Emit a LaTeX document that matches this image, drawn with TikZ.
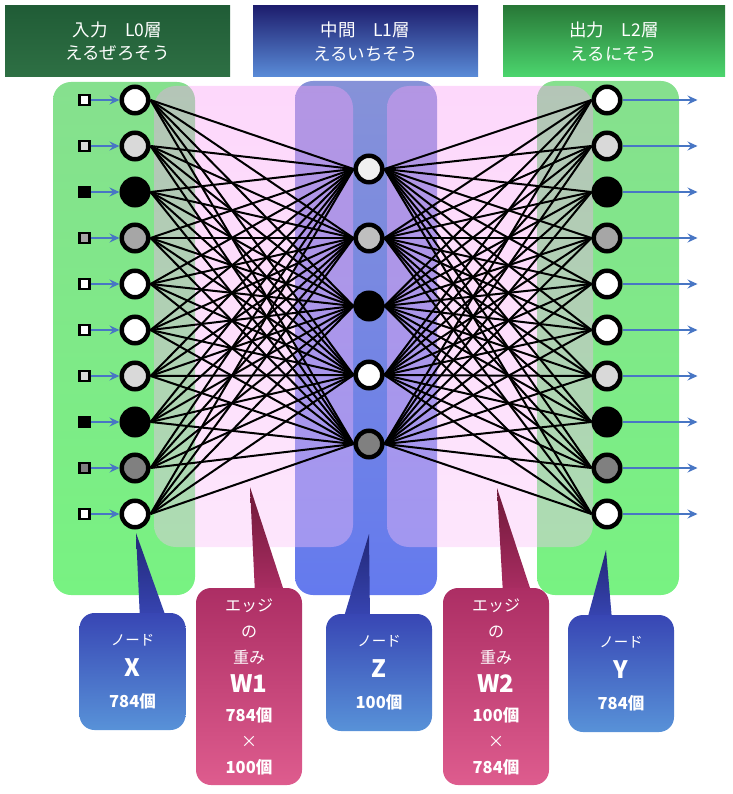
\documentclass[tikz,border=0pt]{standalone}
\usepackage{fontspec}
\setmainfont{Noto Sans CJK JP}
\usepackage{tikz}
\usetikzlibrary{positioning, arrows.meta}

\definecolor{panelA}{RGB}{134,224,142}
\definecolor{panelB}{RGB}{178,239,183}
\definecolor{panelC}{RGB}{120,242,130}
\definecolor{columnA}{RGB}{134,146,216}
\definecolor{columnB}{RGB}{158,178,240}
\definecolor{columnC}{RGB}{100,122,238}
\definecolor{veilA}{RGB}{250,157,245}
\definecolor{veilB}{RGB}{250,192,248}
\definecolor{flowblue}{RGB}{72,118,196}
\definecolor{lgray}{RGB}{217,217,217}
\definecolor{mgray}{RGB}{166,166,166}
\definecolor{dgray}{RGB}{128,128,128}
\definecolor{wgray}{RGB}{240,240,240}
\definecolor{sgray}{RGB}{191,191,191}
\definecolor{tagblueA}{RGB}{56,70,180}
\definecolor{tagblueB}{RGB}{88,146,216}
\definecolor{tippblue}{RGB}{34,40,120}
\definecolor{tagpinkA}{RGB}{172,46,100}
\definecolor{tagpinkB}{RGB}{208,66,128}
\definecolor{tagpinkC}{RGB}{222,92,142}
\definecolor{tippink}{RGB}{110,24,56}

\tikzset{
  unit/.style={circle, draw=black, line width=4.5pt, minimum size=26.5pt, inner sep=0pt},
  insq/.style={rectangle, draw=black, line width=2.2pt, minimum size=10pt, inner sep=0pt},
  wire/.style={black, line width=2pt},
  flow/.style={draw=flowblue, line width=1.3pt, -{Stealth[length=10pt,width=9pt,inset=3.5pt]}},
  head/.style={rectangle, minimum width=225pt, minimum height=71pt, text=white, align=center,
    font=\fontsize{17.5}{23.5}\selectfont},
  tag/.style={rectangle, rounded corners=15pt, minimum width=106pt, text=white, align=center},
  panel/.style={rounded corners=18pt},
  veil/.style={rounded corners=22pt, fill opacity=0.4, top color=veilA, bottom color=veilB}
}

\newcommand{\kosu}[1]{{\fontsize{16.5}{26}\selectfont\bfseries #1}}
\newcommand{\mei}[1]{{\fontsize{24}{26}\selectfont\bfseries #1}}

\begin{document}
\begin{tikzpicture}[x=1pt, y=-1pt]
\useasboundingbox (0,0) rectangle (732,794);

% panels
\shade[panel, top color=panelA, middle color=panelB, bottom color=panelC] (53,82) rectangle (195,595);
\shade[panel, top color=panelA, middle color=panelB, bottom color=panelC] (537,81) rectangle (679,595);
\shade[panel, top color=columnA, middle color=columnB, bottom color=columnC] (295,81) rectangle (437,595);
\shade[veil] (154,86) rectangle (353,547);
\shade[veil] (387,86) rectangle (593,547);

% layer L0
\foreach \y/\c [count=\i] in {100/white, 146/lgray, 192/black, 238/mgray, 284/white,
    330/white, 376/lgray, 422/black, 468/dgray, 514/white} {
  \node[unit, fill=\c] (l\i) at (135,\y) {};
  \node[insq, fill=\c, left=29pt of l\i] (s\i) {};
  \draw[flow] (s\i) -- (l\i);
}

% layer L1
\foreach \y/\c [count=\j] in {169/wgray, 238/sgray, 306/black, 375/white, 444/dgray}
  \node[unit, fill=\c] (m\j) at (369,\y) {};

% layer L2
\foreach \y/\c [count=\i] in {100/white, 146/lgray, 192/black, 238/mgray, 284/white,
    330/white, 376/lgray, 422/black, 468/dgray, 514/white} {
  \node[unit, fill=\c] (r\i) at (607,\y) {};
  \coordinate[right=75pt of r\i] (o\i);
  \draw[flow] (r\i) -- (o\i);
}

% weights
\foreach \i in {1,...,10}
  \foreach \j in {1,...,5} {
    \draw[wire] (l\i.east) -- (m\j.west);
    \draw[wire] (m\j.east) -- (r\i.west);
  }

% headers
\node[head, top color={rgb,255:red,32;green,92;blue,54}, bottom color={rgb,255:red,46;green,112;blue,68}]
  (h0) at (117.5,41.5) {入力　L0層\\えるぜろそう};
\node[head, top color={rgb,255:red,30;green,30;blue,110}, middle color={rgb,255:red,68;green,88;blue,200},
  bottom color={rgb,255:red,90;green,140;blue,216}] (h1) at (365.5,41.5) {中間　L1層\\えるいちそう};
\node[head, minimum width=222pt, top color={rgb,255:red,40;green,120;blue,55}, middle color={rgb,255:red,62;green,196;blue,92},
  bottom color={rgb,255:red,76;green,214;blue,110}] (h2) at (614,41.5) {出力　L2層\\えるにそう};

% callouts
\shade[top color=tippblue, bottom color=tagblueA] (136,533) -- (140,620) -- (167,620) -- cycle;
\shade[top color=tippblue, bottom color=tagblueA] (369,534) -- (343,620) -- (370,620) -- cycle;
\shade[top color=tippblue, bottom color=tagblueA] (606,550) -- (587,620) -- (612,620) -- cycle;
\shade[top color=tippink, bottom color=tagpinkA] (250,487) -- (255,594) -- (285,594) -- cycle;
\shade[top color=tippink, bottom color=tagpinkA] (497,488) -- (503,594) -- (532,594) -- cycle;

\node[tag, minimum height=117pt, top color=tagblueA, bottom color=tagblueB,
  font=\fontsize{14.5}{31}\selectfont] (nx) at (132.5,671.5)
  {ノード\\\mei{X}\\\kosu{784個}};
\node[tag, minimum height=117pt, top color=tagblueA, bottom color=tagblueB,
  font=\fontsize{14.5}{31}\selectfont] (nz) at (379,672.5)
  {ノード\\\mei{Z}\\\kosu{100個}};
\node[tag, minimum height=117pt, top color=tagblueA, bottom color=tagblueB,
  font=\fontsize{14.5}{31}\selectfont] (ny) at (621,673.5)
  {ノード\\\mei{Y}\\\kosu{784個}};
\node[tag, minimum height=197pt, top color=tagpinkA, middle color=tagpinkB, bottom color=tagpinkC,
  font=\fontsize{16}{26}\selectfont] (w1) at (249,686.5)
  {エッジ\\の\\重み\\[3pt]\mei{W1}\\[3pt]\kosu{784個}\\×\\\kosu{100個}};
\node[tag, minimum height=197pt, top color=tagpinkA, middle color=tagpinkB, bottom color=tagpinkC,
  font=\fontsize{16}{26}\selectfont] (w2) at (496,686.5)
  {エッジ\\の\\重み\\[3pt]\mei{W2}\\[3pt]\kosu{100個}\\×\\\kosu{784個}};
\end{tikzpicture}
\end{document}
